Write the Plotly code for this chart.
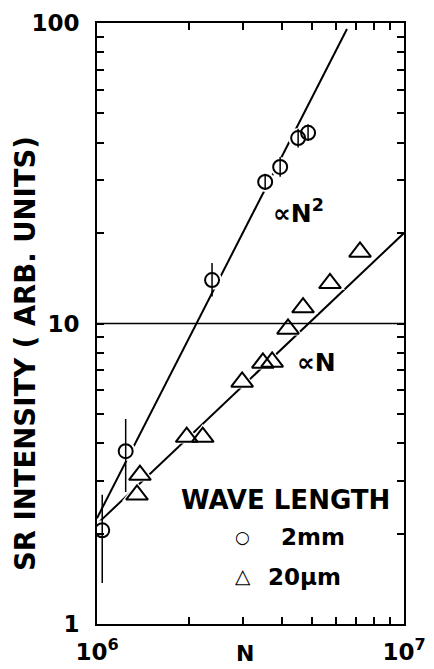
import numpy as np
import plotly.graph_objects as go

# ---- data ----
N_2MM = [1.04e6, 1.24e6, 2.37e6, 3.53e6, 3.95e6, 4.52e6, 4.87e6]
I_2MM = [2.05, 3.76, 13.95, 29.6, 33.2, 41.4, 43.1]
I_2MM_HI = [2.69, 4.81, 15.9, 31.5, 35.8, 44.5, 46.0]
I_2MM_LO = [1.37, 2.75, 12.3, 27.8, 30.8, 38.5, 40.5]

N_20UM = [1.35e6, 1.38e6, 1.96e6, 2.21e6, 2.97e6, 3.47e6, 3.72e6, 4.19e6, 4.69e6, 5.74e6, 7.19e6]
I_20UM = [2.69, 3.13, 4.19, 4.19, 6.39, 7.39, 7.45, 9.59, 11.3, 13.6, 17.3]

FIT_N2_X = [1.0e6, 6.52e6]
FIT_N2_Y = [2.25, 95.5]
FIT_N_X = [1.0e6, 1.0e7]
FIT_N_Y = [2.15, 20.0]

REF_LEVEL = 10

X_TICKS = [1e6, 2e6, 3e6, 4e6, 5e6, 6e6, 7e6, 8e6, 9e6, 1e7]
X_TICKTEXT = ["10<sup>6</sup>", "", "", "", "", "", "", "", "", "10<sup>7</sup>"]
Y_TICKS = [1, 2, 3, 4, 5, 6, 7, 8, 9, 10, 20, 30, 40, 50, 60, 70, 80, 90, 100]
Y_TICKTEXT = ["1", "", "", "", "", "", "", "", "", "10", "", "", "", "", "", "", "", "", "100"]

FONT = "DejaVu Sans"

err_plus = [h - v for h, v in zip(I_2MM_HI, I_2MM)]
err_minus = [v - l for v, l in zip(I_2MM, I_2MM_LO)]

fig = go.Figure()

# fit lines
fig.add_trace(go.Scatter(x=FIT_N2_X, y=FIT_N2_Y, mode="lines",
                         line=dict(color="black", width=2), hoverinfo="skip", showlegend=False))
fig.add_trace(go.Scatter(x=FIT_N_X, y=FIT_N_Y, mode="lines",
                         line=dict(color="black", width=2), hoverinfo="skip", showlegend=False))

# white halos to break the lines around markers
fig.add_trace(go.Scatter(x=N_2MM, y=I_2MM, mode="markers",
                         marker=dict(symbol="circle", size=20, color="white", line=dict(width=0)),
                         hoverinfo="skip", showlegend=False))
fig.add_trace(go.Scatter(x=N_20UM, y=I_20UM, mode="markers",
                         marker=dict(symbol="triangle-up", size=26, color="white", line=dict(width=0)),
                         hoverinfo="skip", showlegend=False))

# data markers
fig.add_trace(go.Scatter(x=N_2MM, y=I_2MM, mode="markers",
                         marker=dict(symbol="circle-open", size=14, color="black", line=dict(width=2, color="black")),
                         error_y=dict(type="data", symmetric=False, array=err_plus, arrayminus=err_minus,
                                      color="black", thickness=1.5, width=0),
                         showlegend=False))
fig.add_trace(go.Scatter(x=N_20UM, y=I_20UM, mode="markers",
                         marker=dict(symbol="triangle-up-open", size=19, color="black", line=dict(width=2, color="black")),
                         showlegend=False))

fig.add_shape(type="line", xref="paper", x0=0, x1=1, yref="y", y0=REF_LEVEL, y1=REF_LEVEL,
              line=dict(color="black", width=1.5), layer="above")

bold = dict(family=FONT, color="black", weight="bold")

def ann(text, px, py, size, xanchor="center", yanchor="middle", angle=0):
    fig.add_annotation(text=text, xref="paper", yref="paper", x=px, y=py, showarrow=False,
                       xanchor=xanchor, yanchor=yanchor, textangle=angle,
                       font=dict(size=size, **bold))

# plot area in reference-image pixels
L, T, W, H = 97, 23, 307, 601
OFF = 8  # page body margin in the browser
FIG_W, FIG_H = 434 - OFF, 669 - OFF
def PX(x): return (x - L) / W
def PY(y): return (T + H - y) / H

ann("∝N<sup>2</sup>", PX(298), PY(211), 25)
ann("∝N", PX(316), PY(363), 25)
ann("WAVE LENGTH", PX(285), PY(500), 26)
ann("○", PX(242), PY(537), 17)
ann("2mm", PX(279), PY(537), 23, xanchor="left")
ann("△", PX(243), PY(576), 20)
ann("20µm", PX(266), PY(577), 23, xanchor="left")
ann("N", PX(245), PY(653), 22)
ann("SR INTENSITY ( ARB. UNITS)", PX(25), PY(354), 27.5, angle=-90)

axis_common = dict(type="log", showline=True, linewidth=2, linecolor="black", mirror="ticks",
                   ticks="inside", ticklen=7, tickwidth=1.5, tickcolor="black",
                   showgrid=False, zeroline=False, automargin=False,
                   tickfont=dict(size=23, **bold))

fig.update_xaxes(range=[6, 7], tickvals=X_TICKS, ticktext=X_TICKTEXT, ticklabelstandoff=6, **axis_common)
fig.update_yaxes(range=[0, 2], tickvals=Y_TICKS, ticktext=Y_TICKTEXT, ticklabelstandoff=11, **axis_common)

fig.update_layout(width=FIG_W, height=FIG_H,
                  margin=dict(l=L - OFF, r=FIG_W - (L - OFF) - W, t=T - OFF, b=FIG_H - (T - OFF) - H),
                  paper_bgcolor="white", plot_bgcolor="white", showlegend=False)

fig.write_html("out.html")
